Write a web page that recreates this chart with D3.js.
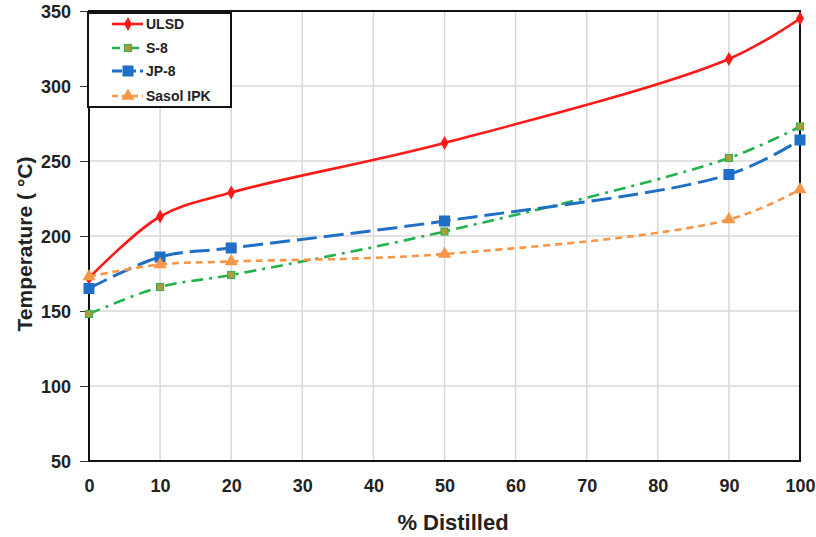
<!DOCTYPE html>
<html>
<head>
<meta charset="utf-8">
<script src="https://cdn.jsdelivr.net/npm/d3@7"></script>
<style>
  body { margin: 0; background: #fff; }
  text { font-family: "Liberation Sans", Arial, sans-serif; font-weight: bold; fill: #222; }
</style>
</head>
<body>
<svg id="chart" width="816" height="537"></svg>
<script>
// Distillation curves: temperature (°C) at each % distilled
const distilled = [0, 10, 20, 50, 90, 100];
const ulsd  = [172, 213, 229, 262, 318, 345];
const s8    = [148, 166, 174, 203, 252, 273];
const jp8   = [165, 186, 192, 210, 241, 264];
const ipk   = [173, 181, 183, 188, 211, 231];
const seriesNames = ["ULSD", "S-8", "JP-8", "Sasol IPK"];
const xTicks = [0, 10, 20, 30, 40, 50, 60, 70, 80, 90, 100];
const yTicks = [50, 100, 150, 200, 250, 300, 350];

const styles = [
  { color: "#ff1a1a", width: 2.6, dash: null,       legendDash: null,      marker: "diamond" },
  { color: "#22b24c", width: 2.6, dash: "12,6,3,6", legendDash: "8,4,3,4", marker: "smallsq" },
  { color: "#1f6fc6", width: 3,   dash: "20,7",     legendDash: "10,4",    marker: "square" },
  { color: "#f79646", width: 2.6, dash: "7,5",      legendDash: "6,4",     marker: "triangle" }
];
const values = [ulsd, s8, jp8, ipk];

const svg = d3.select("#chart");
const L = 89, R = 800, T = 11, B = 461;

const x = d3.scaleLinear().domain([0, 100]).range([L, R]);
const y = d3.scaleLinear().domain([50, 350]).range([B, T]);

// gridlines
svg.append("g").selectAll("line").data(xTicks).join("line")
  .attr("x1", d => x(d)).attr("x2", d => x(d)).attr("y1", T).attr("y2", B)
  .attr("stroke", "#d9d9d9").attr("stroke-width", 1.5);
svg.append("g").selectAll("line").data(yTicks).join("line")
  .attr("x1", L).attr("x2", R).attr("y1", d => y(d)).attr("y2", d => y(d))
  .attr("stroke", "#d9d9d9").attr("stroke-width", 1.5);

// axes
const xAxis = svg.append("g").attr("transform", `translate(0,${B})`)
  .call(d3.axisBottom(x).tickValues(xTicks).tickSize(0).tickPadding(18));
const yAxis = svg.append("g").attr("transform", `translate(${L},0)`)
  .call(d3.axisLeft(y).tickValues(yTicks).tickSize(9).tickPadding(9));
[xAxis, yAxis].forEach(g => {
  g.select(".domain").remove();
  g.selectAll("text").style("font-size", "18px").style("font-weight", "bold")
    .style("font-family", "'Liberation Sans', Arial, sans-serif").attr("fill", "#222");
  g.selectAll("line").attr("stroke", "#333");
});
yAxis.selectAll("text").attr("dy", "0.36em");

// plot frame
svg.append("rect").attr("x", L).attr("y", T).attr("width", R - L).attr("height", B - T)
  .attr("fill", "none").attr("stroke", "#111").attr("stroke-width", 2);

// axis titles
svg.append("text").attr("x", 453).attr("y", 530).attr("text-anchor", "middle")
  .style("font-size", "22px").text("% Distilled");
svg.append("text").attr("transform", `translate(32,244) rotate(-90)`)
  .attr("text-anchor", "middle").style("font-size", "21px").text("Temperature ( °C)");

function drawMarker(g, type, color, cx, cy) {
  if (type === "diamond") {
    g.append("path").attr("transform", `translate(${cx},${cy})`)
      .attr("d", d3.symbol(d3.symbolDiamond, 55)()).attr("fill", color);
  } else if (type === "smallsq") {
    g.append("rect").attr("x", cx - 3.5).attr("y", cy - 3.5).attr("width", 7).attr("height", 7)
      .attr("fill", "#b39a3a").attr("stroke", "#3cb050").attr("stroke-width", 1.2);
  } else if (type === "square") {
    g.append("rect").attr("x", cx - 5.5).attr("y", cy - 5.5).attr("width", 11).attr("height", 11)
      .attr("fill", color);
  } else if (type === "triangle") {
    g.append("path").attr("transform", `translate(${cx},${cy})`)
      .attr("d", d3.symbol(d3.symbolTriangle, 75)()).attr("fill", color);
  }
}

const line = d3.line().x(d => x(d[0])).y(d => y(d[1])).curve(d3.curveCatmullRom.alpha(0.5));

values.forEach((vals, i) => {
  const st = styles[i];
  const pts = distilled.map((d, j) => [d, vals[j]]);
  const g = svg.append("g");
  g.append("path").datum(pts).attr("d", line).attr("fill", "none")
    .attr("stroke", st.color).attr("stroke-width", st.width)
    .attr("stroke-dasharray", st.dash);
  pts.forEach(p => drawMarker(g, st.marker, st.color, x(p[0]), y(p[1])));
});

// legend
const lg = svg.append("g");
lg.append("rect").attr("x", 88).attr("y", 13).attr("width", 143).attr("height", 94)
  .attr("fill", "#fff").attr("stroke", "#111").attr("stroke-width", 2);
const rows = [24, 48, 71, 96];
seriesNames.forEach((name, i) => {
  const st = styles[i];
  const yy = rows[i];
  lg.append("line").attr("x1", 112).attr("x2", 143).attr("y1", yy).attr("y2", yy)
    .attr("stroke", st.color).attr("stroke-width", st.width)
    .attr("stroke-dasharray", st.legendDash);
  drawMarker(lg, st.marker, st.color, 128, yy);
  lg.append("text").attr("x", 146).attr("y", yy).attr("dy", "0.36em")
    .style("font-size", "14px").text(name);
});
</script>
</body>
</html>
